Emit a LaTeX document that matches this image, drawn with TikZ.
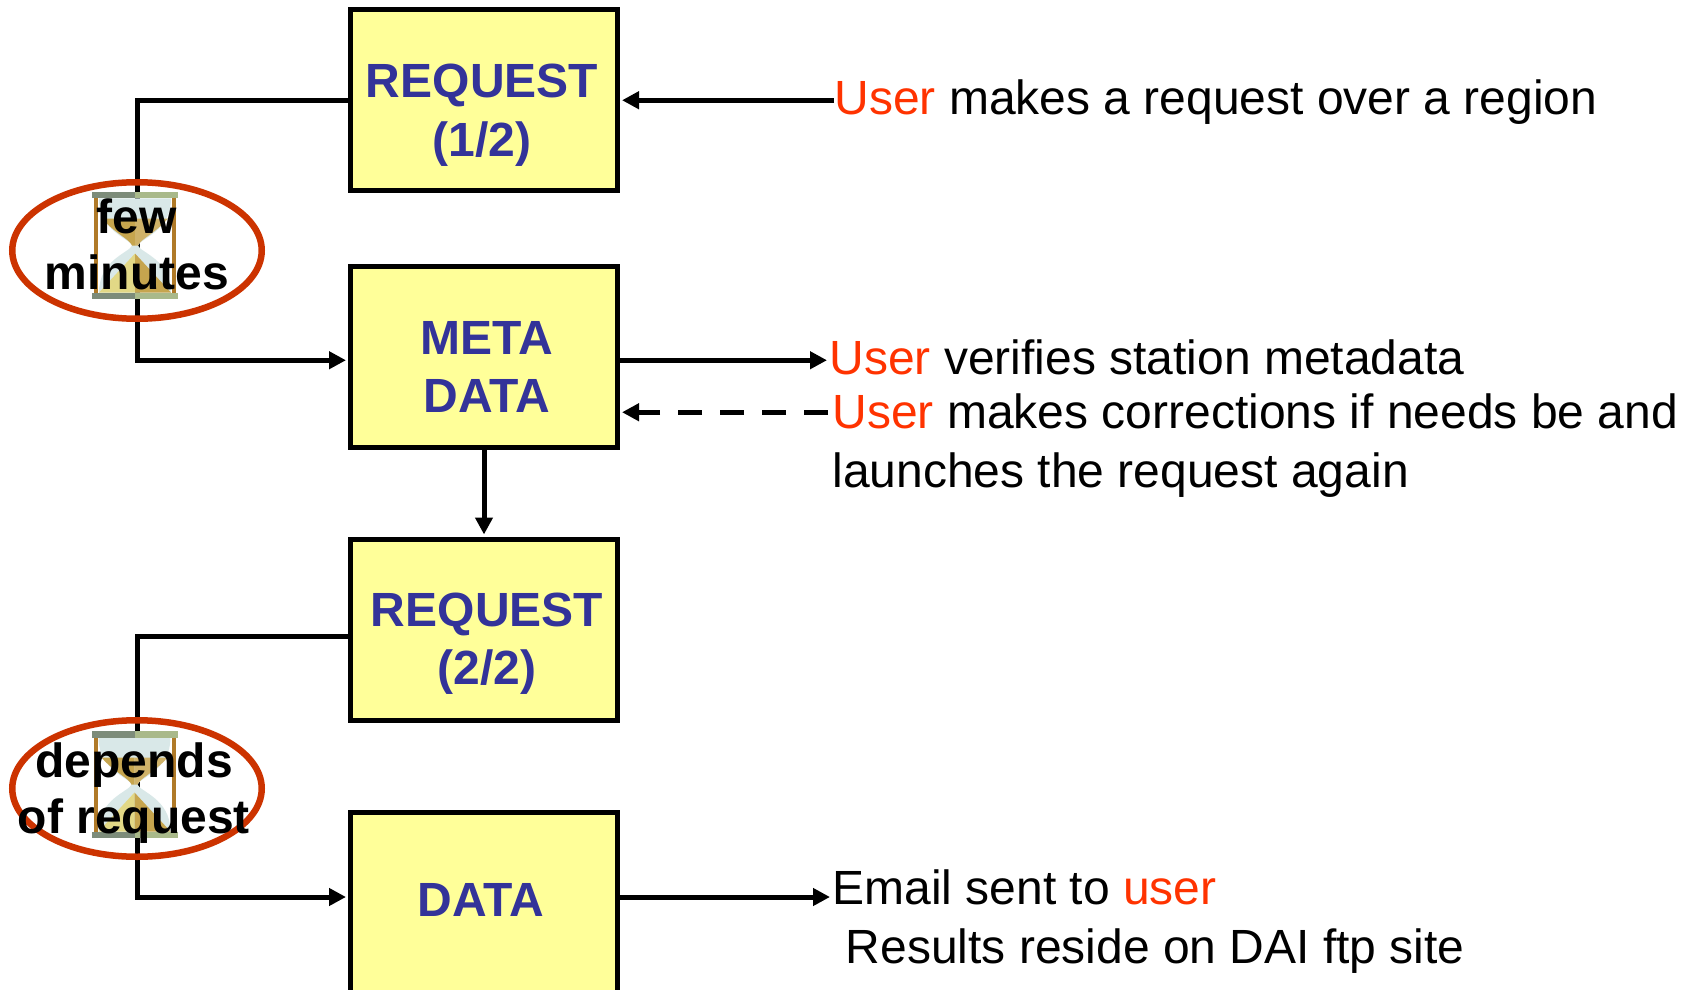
\documentclass[tikz,border=0pt]{standalone}
\usepackage{fontspec}
\setmainfont{Liberation Sans}
\usetikzlibrary{arrows.meta,shapes.geometric}
\definecolor{boxfill}{HTML}{FFFF99}
\definecolor{boxtext}{HTML}{333399}
\definecolor{userred}{HTML}{FF3300}
\definecolor{ringred}{HTML}{CC3300}
\definecolor{glasscol}{HTML}{D9E8E8}
\definecolor{sanddark}{HTML}{C6A54E}
\definecolor{sandlight}{HTML}{E2D886}
\definecolor{postcol}{HTML}{B07A28}
\definecolor{capdark}{HTML}{7D8C7A}
\definecolor{caplight}{HTML}{A9B98A}
\begin{document}
\begin{tikzpicture}[x=0.5pt,y=-0.5pt,
  stagebox/.style={draw=black, line width=2.5pt, fill=boxfill, rectangle,
    minimum width=133.5pt, minimum height=90.5pt, inner sep=0pt},
  boxlabel/.style={anchor=base, inner sep=0pt, text=boxtext,
    font=\fontsize{24}{29}\selectfont\bfseries},
  note/.style={anchor=base west, inner sep=0pt, font=\fontsize{24}{29.5}\selectfont},
  flow/.style={line width=2.5pt, shorten >=1pt, -{Triangle[length=8.5pt,width=8.5pt]}},
  ring/.style={ellipse, draw=ringred, line width=3.25pt, minimum width=124.75pt,
    minimum height=68.25pt, inner sep=0pt},
  waitlabel/.style={anchor=base, inner sep=0pt, font=\fontsize{24}{28}\selectfont\bfseries},
  hourglass/.pic={
    \fill[glasscol] (-36,-47) -- (36,-47) .. controls (36,-14) and (5,-7) .. (3,0)
      .. controls (5,7) and (36,14) .. (36,47) -- (-36,47)
      .. controls (-36,14) and (-5,7) .. (-3,0) .. controls (-5,-7) and (-36,-14) .. (-36,-47) -- cycle;
    \fill[sanddark] (-33,-27) -- (0,-27) -- (0,0) -- (-3,0) .. controls (-5,-6) and (-20,-12) .. (-33,-27) -- cycle;
    \fill[sanddark!85!white] (0,-27) -- (33,-27) .. controls (20,-12) and (5,-6) .. (3,0) -- (0,0) -- cycle;
    \fill[sandlight] (0,8) -- (0,47) -- (-36,47) -- cycle;
    \fill[sanddark] (0,8) -- (36,47) -- (0,47) -- cycle;
    \fill[postcol] (-41,-47) rectangle (-37,47);
    \fill[postcol] (37,-47) rectangle (41,47);
    \fill[capdark] (-43,-53.5) rectangle (0,-47);
    \fill[caplight] (0,-53.5) rectangle (43,-47);
    \fill[capdark] (-43,47) rectangle (0,53.5);
    \fill[caplight] (0,47) rectangle (43,53.5);
  }]
\clip (0,0) rectangle (1693,990);
\fill[white] (0,0) rectangle (1693,990);

% boxes
\node[stagebox] (r1) at (484,100.25) {};
\node[stagebox] (m)  at (484,357.25) {};
\node[stagebox] (r2) at (484,629.5) {};
\node[stagebox] (d)  at (484,903) {};

% box labels
\node[boxlabel] (r1t) at (482,98) {\begin{tabular}[t]{@{}c@{}}REQUEST\\(1/2)\end{tabular}};
\node[boxlabel] (mt)  at (487,354) {\begin{tabular}[t]{@{}c@{}}META\\DATA\end{tabular}};
\node[boxlabel] (r2t) at (487,626) {\begin{tabular}[t]{@{}c@{}}REQUEST\\(2/2)\end{tabular}};
\node[boxlabel] (dt)  at (481,916) {DATA};

% notes on the right
\node[note] (u1) at (834,115) {\textcolor{userred}{User} makes a request over a region};
\node[note] (u2) at (829,374) {\textcolor{userred}{User} verifies station metadata};
\node[note] (u3) at (832,428) {\begin{tabular}[t]{@{}l@{}}\textcolor{userred}{User} makes corrections if needs be and\\launches the request again\end{tabular}};
\node[note] (u4) at (832,904) {\begin{tabular}[t]{@{}l@{}}Email sent to \textcolor{userred}{user}\\\hspace*{6.7pt}Results reside on DAI ftp site\end{tabular}};

% right connectors
\draw[flow] (u1.base west |- r1.east) -- (r1.east);
\draw[flow] ([yshift=-1.5pt]m.east) -- ([yshift=-1.5pt]m.east -| u2.base west);
\draw[flow, dash pattern=on 12pt off 9pt] ([yshift=-27.5pt]m.east -| u3.base west) ++(-4,0) -- ([yshift=-27.5pt]m.east);
\draw[flow] (m.south) -- (r2.north);
\draw[flow] ([yshift=3pt]d.east) -- ([yshift=3pt]d.east -| u4.base west);

% waiting loops on the left
\coordinate (w1) at (137,250.5);
\coordinate (w2) at (137,788.5);
\draw[flow] (r1.west) -- (r1.west -| w1) -- ([yshift=-1.5pt]m.west -| w1) -- ([yshift=-1.5pt]m.west);
\draw[flow] ([yshift=-3.25pt]r2.west) -- ([yshift=-3.25pt]r2.west -| w2) -- ([yshift=3pt]d.west -| w2) -- ([yshift=3pt]d.west);

\pic (hg1) at (135,245.5) {hourglass};
\pic (hg2) at (134.5,784.5) {hourglass};

\node[ring] (e1) at (w1) {};
\node[ring] (e2) at (w2) {};

\node[waitlabel] (t1) at (137,234) {\begin{tabular}[t]{@{}c@{}}few\\minutes\end{tabular}};
\node[waitlabel] (t2) at (134,777) {\begin{tabular}[t]{@{}c@{}}depends\\of request\end{tabular}};
\end{tikzpicture}
\end{document}
